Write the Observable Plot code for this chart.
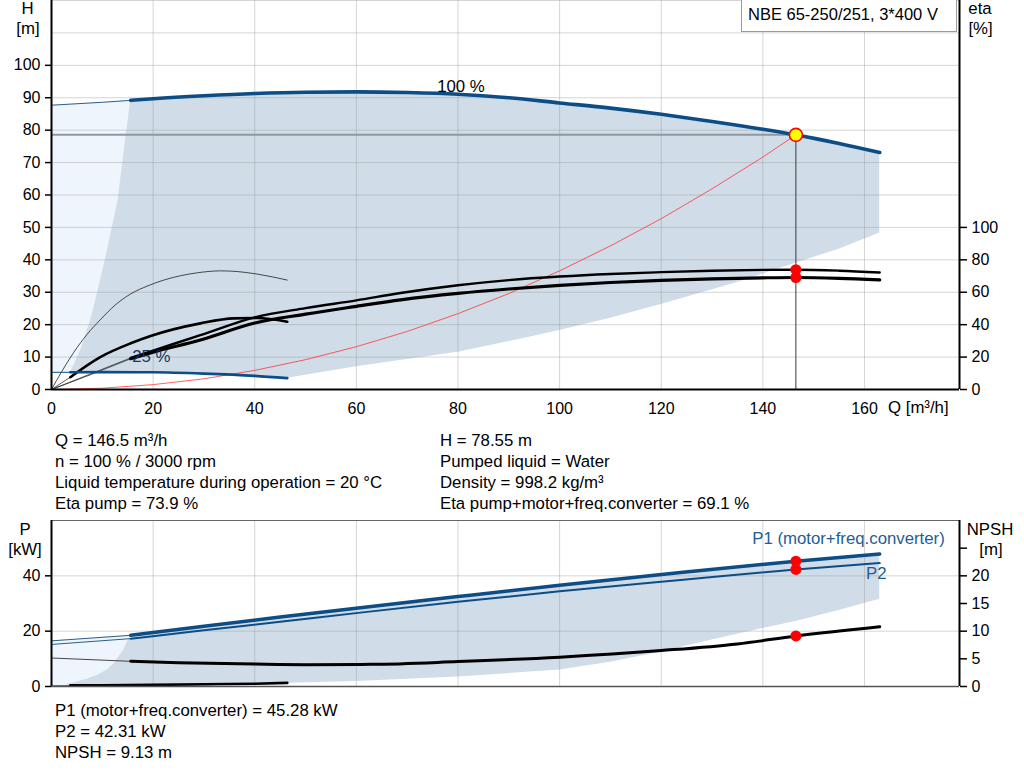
<!DOCTYPE html>
<html><head><meta charset="utf-8">
<script src="https://cdn.jsdelivr.net/npm/d3@7"></script>
<script src="https://cdn.jsdelivr.net/npm/@observablehq/plot@0.6"></script>
<style>
body{margin:0;background:#fff;font-family:"Liberation Sans",Arial,sans-serif;}
#wrap{position:relative;width:1024px;height:781px;overflow:hidden;background:#fff;}
.abs{position:absolute;font-size:16.8px;color:#000;white-space:nowrap;line-height:16px;}
.chart{position:absolute;left:0;}
</style></head><body><div id="wrap"></div>
<script>
// ---------- ticks ----------
const Q_MAX = 178.7;
const Q_TICKS = [0, 20, 40, 60, 80, 100, 120, 140, 160];
const H_TICKS = [0, 10, 20, 30, 40, 50, 60, 70, 80, 90, 100];
const H_GRID = [10, 20, 30, 40, 50, 60, 70, 80, 90, 100, 110, 120];
const ETA_TICKS = [0, 20, 40, 60, 80, 100];
const P_TICKS = [0, 20, 40];
const P_GRID = [20, 40];
const NPSH_TICKS = [0, 5, 10, 15, 20, 25];
const NPSH_LABELLED = [0, 5, 10, 15, 20];

// ---------- operating point ----------
const OP_Q = 146.5, OP_H = 78.55, OP_ETA_PUMP = 73.9, OP_ETA_TOT = 69.1;
const OP_P1 = 45.28, OP_P2 = 42.31, OP_NPSH = 9.13;
const Q_FULL_MIN = 15.6;   // start of thick (allowed) part at 100 %
const Q_MIN_25 = 3.7;      // start of thick part at 25 %

// ---------- head 100 % ----------
const hQ = [0, 10, 15.6, 20, 30, 40, 50, 60, 70, 80, 90, 100, 110, 120, 130, 140, 146.5, 155, 163];
const hH = [87.7, 88.6, 89.2, 89.7, 90.6, 91.3, 91.7, 91.8, 91.6, 91.1, 90.0, 88.4, 86.8, 84.9, 82.7, 80.3, 78.55, 75.9, 73.1];
// ---------- head 25 % ----------
const h25Q = [0, 3.7, 10, 20, 30, 40, 46.4];
const h25H = [5.3, 5.3, 5.35, 5.3, 4.9, 4.2, 3.5];
// ---------- system curve ----------
const sysQ = [0, 10, 20, 30, 40, 50, 60, 70, 80, 90, 100, 110, 120, 130, 140, 146.5];
const sysH = [0, 0.4, 1.5, 3.3, 5.9, 9.2, 13.2, 17.9, 23.4, 29.6, 36.6, 44.3, 52.7, 61.9, 71.7, 78.55];
// ---------- efficiency 100 % ----------
const etaQ = [0, 8, 15.6, 20, 29.3, 40, 50, 60, 68.7, 80, 90, 100, 110, 120, 130, 140, 146.5, 155, 163];
const etaPump = [0, 10, 19.5, 24, 33.5, 44.5, 50.2, 55, 59.5, 64.3, 67.5, 69.7, 71.3, 72.4, 73.3, 73.8, 73.9, 73.3, 72.2];
const etaTotal = [0, 9.5, 19, 23, 30.5, 41, 46.5, 51.3, 55.3, 59.3, 62, 64.2, 66, 67.3, 68.3, 68.9, 69.1, 68.6, 67.6];
// ---------- efficiency 25 % ----------
const eta25TotQ = [0, 3.7, 9.6, 15.6, 19.5, 29.3, 35.9, 40.5, 46.4];
const eta25Tot = [0, 7.6, 20, 28.5, 33, 40.8, 43.9, 44.1, 41.8];
const eta25PumpQ = [0, 2, 4.4, 7, 9.6, 12.5, 15.6, 19, 22.1, 28.7, 33.3, 36.5, 40.5, 46.4];
const eta25Pump = [0, 11, 23, 34, 43, 52, 59, 64, 67.5, 72, 73.2, 72.8, 71.2, 67.5];
// ---------- operating area (top) ----------
const lightTopQ = [0, 8, 15.6];
const lightTopLo = [5.3, 5.3, 5.3];
const lightTopHi = [87.7, 88.4, 89.2];
const envTopQ = [3.8, 6, 8, 10, 11, 13.1, 14.5, 15.6, 20, 30, 40, 46.4, 60, 80, 92.5, 100, 110, 120, 135, 146, 155, 163];
const envTopLo = [5.3, 5.3, 5.3, 5.35, 5.35, 5.35, 5.3, 5.3, 5.3, 4.9, 4.2, 3.5, 7, 11.5, 15.6, 18.2, 22, 26.2, 33, 38.7, 43.3, 48.3];
const envTopHi = [5.3, 13, 23, 36, 42.8, 58.2, 76, 89.2, 89.7, 90.6, 91.3, 91.6, 91.8, 91.1, 89.3, 88.4, 86.8, 84.9, 81.4, 78.8, 75.9, 73.1];

// ---------- power / NPSH ----------
const pQ = [0, 15.6, 30, 45, 60.8, 80, 100, 123.8, 146.5, 163];
const p1 = [16.5, 18.5, 21.8, 25.1, 28.5, 32.5, 36.6, 41.2, 45.28, 47.9];
const p2 = [15.2, 17.3, 20.3, 23.4, 26.7, 30.6, 34.4, 38.5, 42.31, 44.6];
const npshQ = [0, 15.6, 25, 40, 50, 63, 80, 100, 120, 135, 146.5, 163];
const npsh = [5.15, 4.55, 4.3, 4.05, 3.95, 4.0, 4.5, 5.3, 6.5, 7.7, 9.13, 10.8];
const p25Q = [0, 10, 20, 30, 40, 46.4];
const p25 = [0.2, 0.3, 0.5, 0.7, 1.0, 1.2];
const npsh25Q = [3.7, 10, 20, 30, 40, 46.4];
const npsh25 = [0.2, 0.22, 0.3, 0.4, 0.5, 0.65];
const lightBotQ = [0, 8, 15.6];
const lightBotLo = [0.2, 0.25, 0.35];
const lightBotHi = [16.5, 17.5, 18.5];
const envBotQ = [3.1, 5, 7, 9, 11, 12.3, 14.2, 15.6, 30, 46.4, 60, 80, 100, 110, 120, 130, 140, 146.5, 155, 163];
const envBotLo = [0.25, 0.25, 0.27, 0.3, 0.3, 0.32, 0.35, 0.35, 0.7, 1.2, 1.8, 3.4, 6.0, 8.8, 12.5, 16.8, 21, 23.5, 27.5, 31.5];
const envBotHi = [0.7, 1.6, 2.6, 4, 6, 8.2, 13.1, 18.5, 21.8, 25.3, 28.3, 32.5, 36.6, 38.5, 40.5, 42.3, 44.1, 45.28, 46.65, 47.9];

// ---------- texts ----------
const INFO_LEFT = ["Q = 146.5 m³/h", "n = 100 % / 3000 rpm", "Liquid temperature during operation = 20 °C", "Eta pump = 73.9 %"];
const INFO_RIGHT = ["H = 78.55 m", "Pumped liquid = Water", "Density = 998.2 kg/m³", "Eta pump+motor+freq.converter = 69.1 %"];
const INFO_BOTTOM = ["P1 (motor+freq.converter) = 45.28 kW", "P2 = 42.31 kW", "NPSH = 9.13 m"];
const TITLE = "NBE 65-250/251, 3*400 V";

// ---------- helpers ----------
const rows = (xs, ys) => xs.map((q, i) => ({q, v: ys[i]}));
const band = (xs, lo, hi) => xs.map((q, i) => ({q, lo: lo[i], hi: hi[i]}));
const seg = (r, a, b) => r.filter(d => d.q >= a && d.q <= b);

const BLUE = "#0d4d86";
const FONT = '"Liberation Sans", Arial, sans-serif';
const gridStyle = {stroke: "#9c9c9c", strokeOpacity: 0.42, strokeWidth: 1};

const H = rows(hQ, hH), H25 = rows(h25Q, h25H), SYS = rows(sysQ, sysH);
const EP = rows(etaQ, etaPump), ET = rows(etaQ, etaTotal);
const E25T = rows(eta25TotQ, eta25Tot), E25P = rows(eta25PumpQ, eta25Pump);
const yEta = d => d.v / 2;

const topChart = Plot.plot({
  width: 1024, height: 420,
  marginLeft: 51, marginRight: 65, marginTop: 0, marginBottom: 31,
  style: {fontFamily: FONT, fontSize: "16px", color: "#000", background: "transparent", overflow: "visible"},
  x: {domain: [0, Q_MAX]},
  y: {domain: [0, 120]},
  marks: [
    Plot.areaY(band(lightTopQ, lightTopLo, lightTopHi), {x: "q", y1: "lo", y2: "hi", fill: "#eef5fc"}),
    Plot.areaY(band(envTopQ, envTopLo, envTopHi), {x: "q", y1: "lo", y2: "hi", fill: "#d0dce7"}),
    Plot.gridX({ticks: Q_TICKS.slice(1), ...gridStyle}),
    Plot.gridY({ticks: H_GRID, ...gridStyle}),
    Plot.line(SYS, {x: "q", y: "v", stroke: "#ff2e2e", strokeWidth: 0.9, strokeOpacity: 0.85}),
    Plot.ruleY([{y: OP_H, x1: 0, x2: OP_Q}], {y: "y", x1: "x1", x2: "x2", stroke: "#8f989f", strokeWidth: 2}),
    Plot.ruleX([{x: OP_Q, y1: 0, y2: OP_H}], {x: "x", y1: "y1", y2: "y2", stroke: "#3a3a3a", strokeWidth: 1}),
    // efficiency 25 %
    Plot.line(E25P, {x: "q", y: yEta, stroke: "#222", strokeWidth: 0.8, curve: "monotone-x"}),
    Plot.line(seg(E25T, 0, Q_MIN_25), {x: "q", y: yEta, stroke: "#333", strokeWidth: 0.8}),
    Plot.line(seg(E25T, Q_MIN_25, 99), {x: "q", y: yEta, stroke: "#000", strokeWidth: 2.6, curve: "monotone-x"}),
    // efficiency 100 %
    Plot.line(seg(EP, 0, Q_FULL_MIN), {x: "q", y: yEta, stroke: "#333", strokeWidth: 0.8}),
    Plot.line(seg(ET, 0, Q_FULL_MIN), {x: "q", y: yEta, stroke: "#333", strokeWidth: 0.8}),
    Plot.line(seg(EP, Q_FULL_MIN, 999), {x: "q", y: yEta, stroke: "#000", strokeWidth: 2.4, curve: "monotone-x"}),
    Plot.line(seg(ET, Q_FULL_MIN, 999), {x: "q", y: yEta, stroke: "#000", strokeWidth: 3.2, curve: "monotone-x"}),
    // head
    Plot.line(seg(H25, 0, Q_MIN_25), {x: "q", y: "v", stroke: BLUE, strokeWidth: 1}),
    Plot.line(seg(H25, Q_MIN_25, 99), {x: "q", y: "v", stroke: BLUE, strokeWidth: 2.6, curve: "monotone-x"}),
    Plot.line(seg(H, 0, Q_FULL_MIN), {x: "q", y: "v", stroke: "#2b5d8c", strokeWidth: 1}),
    Plot.line(seg(H, Q_FULL_MIN, 999), {x: "q", y: "v", stroke: BLUE, strokeWidth: 3.6, curve: "monotone-x"}),
    // duty points
    Plot.dot([{q: OP_Q, v: OP_ETA_PUMP}, {q: OP_Q, v: OP_ETA_TOT}], {x: "q", y: yEta, r: 5.5, fill: "#ff0000", stroke: "none"}),
    Plot.dot([{q: OP_Q, v: OP_H}], {x: "q", y: "v", r: 6.5, fill: "#ffff00", stroke: "#ff0000", strokeWidth: 1.6}),
    // labels in chart
    Plot.text([{q: 75.9, v: 93.5, t: "100 %"}], {x: "q", y: "v", text: "t", textAnchor: "start", fill: "#000", fontSize: 16.8}),
    Plot.text([{q: 15.9, v: 10.1, t: "25 %"}], {x: "q", y: "v", text: "t", textAnchor: "start", fill: "#17365d", fontSize: 16.8}),
    // axes
    Plot.axisY({ticks: H_TICKS, anchor: "left", tickSize: 6, tickPadding: 5, label: null, strokeWidth: 1.5, fontSize: 16}),
    Plot.axisY({ticks: ETA_TICKS.map(e => e / 2), tickFormat: d => String(d * 2), anchor: "right", tickSize: 7, tickPadding: 5, label: null, strokeWidth: 1.5, fontSize: 16}),
    Plot.axisX({ticks: Q_TICKS, anchor: "bottom", tickSize: 0, tickPadding: 13, label: null, fontSize: 16}),
    Plot.ruleX([0], {stroke: "#000", strokeWidth: 2}),
    Plot.ruleX([Q_MAX], {stroke: "#000", strokeWidth: 2}),
    Plot.ruleY([0], {stroke: "#000", strokeWidth: 2})
  ]
});

const P1 = rows(pQ, p1), P2 = rows(pQ, p2), NP = rows(npshQ, npsh);
const P25 = rows(p25Q, p25), NP25 = rows(npsh25Q, npsh25);
const yN = d => d.v * 2;

const botChart = Plot.plot({
  width: 1024, height: 190,
  marginLeft: 51, marginRight: 65, marginTop: 10, marginBottom: 14,
  style: {fontFamily: FONT, fontSize: "16px", color: "#000", background: "transparent", overflow: "visible"},
  x: {domain: [0, Q_MAX], axis: null},
  y: {domain: [0, 60], axis: null},
  marks: [
    Plot.areaY(band(lightBotQ, lightBotLo, lightBotHi), {x: "q", y1: "lo", y2: "hi", fill: "#eef5fc"}),
    Plot.areaY(band(envBotQ, envBotLo, envBotHi), {x: "q", y1: "lo", y2: "hi", fill: "#d0dce7"}),
    Plot.gridX({ticks: Q_TICKS.slice(1), ...gridStyle}),
    Plot.gridY({ticks: P_GRID, ...gridStyle}),
    Plot.ruleY([60], {stroke: "#666", strokeWidth: 1}),
    Plot.line(P25, {x: "q", y: "v", stroke: "#2b5d8c", strokeWidth: 1.2}),
    Plot.line(NP25, {x: "q", y: yN, stroke: "#000", strokeWidth: 2.6}),
    Plot.line(seg(NP, 0, Q_FULL_MIN), {x: "q", y: yN, stroke: "#333", strokeWidth: 0.9}),
    Plot.line(seg(NP, Q_FULL_MIN, 999), {x: "q", y: yN, stroke: "#000", strokeWidth: 3, curve: "monotone-x"}),
    Plot.line(seg(P2, 0, Q_FULL_MIN), {x: "q", y: "v", stroke: "#2b5d8c", strokeWidth: 1}),
    Plot.line(seg(P2, Q_FULL_MIN, 999), {x: "q", y: "v", stroke: BLUE, strokeWidth: 2, curve: "monotone-x"}),
    Plot.line(seg(P1, 0, Q_FULL_MIN), {x: "q", y: "v", stroke: "#2b5d8c", strokeWidth: 1}),
    Plot.line(seg(P1, Q_FULL_MIN, 999), {x: "q", y: "v", stroke: BLUE, strokeWidth: 3.5, curve: "monotone-x"}),
    Plot.dot([{q: OP_Q, v: OP_P1}, {q: OP_Q, v: OP_P2}], {x: "q", y: "v", r: 5.5, fill: "#ff0000", stroke: "none"}),
    Plot.dot([{q: OP_Q, v: OP_NPSH}], {x: "q", y: yN, r: 5.5, fill: "#ff0000", stroke: "none"}),
    Plot.text([{q: 137.9, v: 53.4, t: "P1 (motor+freq.converter)"}], {x: "q", y: "v", text: "t", textAnchor: "start", fill: "#1f5d96", fontSize: 16.8}),
    Plot.text([{q: 160.3, v: 40.8, t: "P2"}], {x: "q", y: "v", text: "t", textAnchor: "start", fill: "#1f5d96", fontSize: 16.8}),
    Plot.axisY({ticks: P_TICKS, anchor: "left", tickSize: 6, tickPadding: 5, label: null, strokeWidth: 1.5, fontSize: 16}),
    Plot.axisY({ticks: NPSH_TICKS.map(n => n * 2), tickFormat: d => NPSH_LABELLED.includes(d / 2) ? String(d / 2) : "", anchor: "right", tickSize: 7, tickPadding: 5, label: null, strokeWidth: 1.5, fontSize: 16}),
    Plot.ruleX([0], {stroke: "#000", strokeWidth: 2}),
    Plot.ruleX([Q_MAX], {stroke: "#000", strokeWidth: 2}),
    Plot.ruleY([0], {stroke: "#555", strokeWidth: 1.5})
  ]
});

const wrap = document.getElementById("wrap");
function place(node, top) {
  const d = document.createElement("div");
  d.className = "chart"; d.style.top = top + "px";
  d.appendChild(node); wrap.appendChild(d);
}
place(topChart, 0);
place(botChart, 510);

function label(text, left, top, opts = {}) {
  const d = document.createElement("div");
  d.className = "abs"; d.textContent = text;
  d.style.left = left + "px"; d.style.top = top + "px";
  if (opts.center) { d.style.transform = "translateX(-50%)"; }
  if (opts.color) d.style.color = opts.color;
  if (opts.size) d.style.fontSize = opts.size + "px";
  wrap.appendChild(d);
  return d;
}
// axis titles
label("H", 27.5, 1, {center: true});
label("[m]", 28, 21, {center: true});
label("eta", 980, 1, {center: true});
label("[%]", 980.5, 21, {center: true});
label("Q [m³/h]", 888, 400);
label("P", 25, 522, {center: true});
label("[kW]", 25, 542, {center: true});
label("NPSH", 990, 522, {center: true});
label("[m]", 991, 542, {center: true});
// title box
const box = document.createElement("div");
box.style.cssText = "position:absolute;left:741px;top:-1px;width:216px;height:33px;border:1px solid #9a9a9a;background:#fff;box-sizing:border-box;";
wrap.appendChild(box);
label(TITLE, 748, 6, {size: 16.5});
// info text
const infoTops = [433, 453.5, 475, 495.5];
INFO_LEFT.forEach((t, i) => label(t, 55, infoTops[i]));
INFO_RIGHT.forEach((t, i) => label(t, 440, infoTops[i]));
const botTops = [703, 724, 745];
INFO_BOTTOM.forEach((t, i) => label(t, 55, botTops[i]));
</script></body></html>
